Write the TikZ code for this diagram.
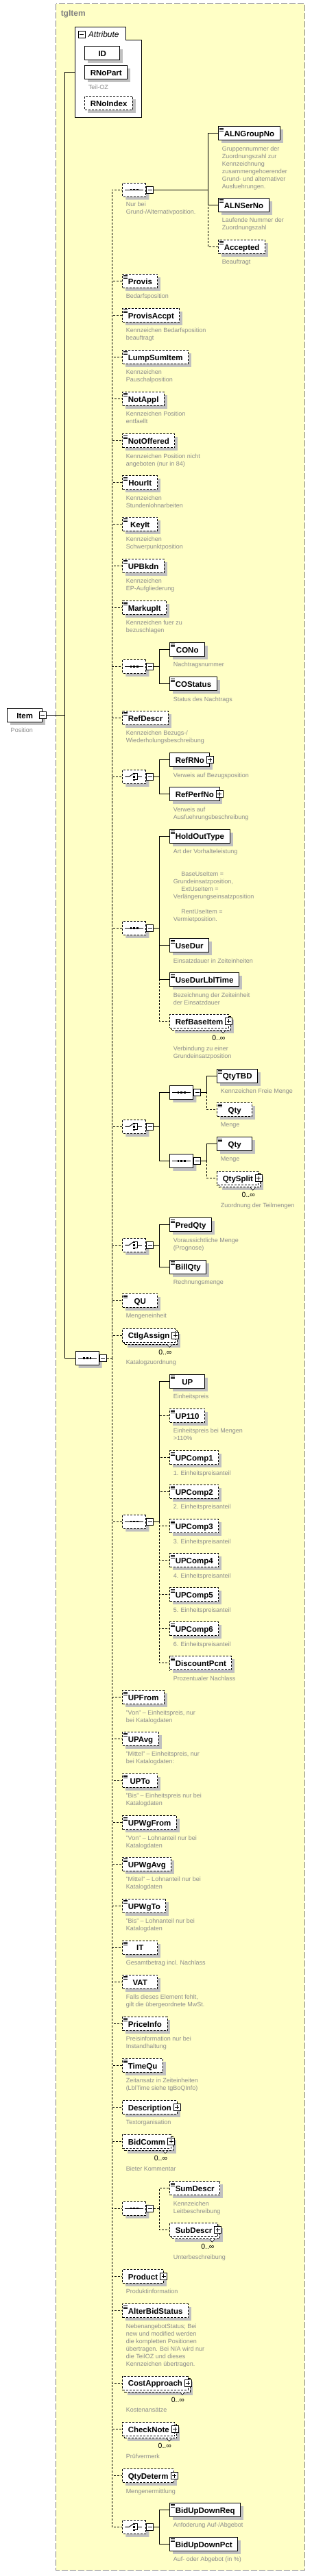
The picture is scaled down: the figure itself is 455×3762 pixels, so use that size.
\documentclass[tikz,border=0pt]{standalone}
\usepackage{fontspec}
\setmainfont{Liberation Sans}
\usetikzlibrary{shapes.misc,shadows,positioning}
\definecolor{paper}{RGB}{255,255,198}
\definecolor{framegray}{RGB}{128,128,128}
\definecolor{descgray}{RGB}{140,140,140}
\definecolor{shade}{RGB}{192,192,192}

\tikzset{
  frame/.style={draw=framegray, line width=1.2pt, dash pattern=on 9pt off 3pt, fill=paper},
  title/.style={anchor=base west, inner sep=0pt, text=framegray, font=\bfseries\fontsize{12}{12}\selectfont},
  box/.style={draw, fill=white, anchor=west, minimum height=20pt, minimum width=51pt,
    inner xsep=8pt, inner ysep=0pt, text height=10.5pt, text depth=1pt,
    font=\bfseries\fontsize{11.5}{12}\selectfont},
  sh/.style={general shadow={fill=shade, shadow xshift=4.5pt, shadow yshift=-4.5pt}},
  el/.style={box, sh},
  dsh/.style={dash pattern=on 3pt off 2pt},
  opt/.style={el, dsh},
  simple/.style={path picture={
    \foreach \k in {2.5,4.5,6.5}
      \draw[solid, line width=.7pt] ([shift={(1.5pt,-\k pt)}]path picture bounding box.north west) -- ++(5.5pt,0pt);}},
  desc/.style={anchor=north west, align=left, inner sep=0pt, text=descgray, font=\fontsize{9}{11}\selectfont},
  pm/.style={draw, solid, fill=white, minimum size=10pt, inner sep=0pt},
  minus/.style={pm, path picture={\draw[solid] ([xshift=2pt]path picture bounding box.west) -- ([xshift=-2pt]path picture bounding box.east);}},
  plus/.style={pm, path picture={\draw[solid] ([xshift=2pt]path picture bounding box.west) -- ([xshift=-2pt]path picture bounding box.east)
      ([yshift=-2pt]path picture bounding box.north) -- ([yshift=2pt]path picture bounding box.south);}},
  comp/.style={chamfered rectangle, chamfered rectangle xsep=5pt, draw, fill=white, anchor=west,
    minimum width=34pt, minimum height=20pt, inner sep=0pt, sh},
  mult/.style={anchor=east, inner sep=0pt, font=\fontsize{10.5}{11}\selectfont},
}

% element with content icon and description
\newcommand{\elem}[5][el]{%
  \node[#1] (#2) at (#3) {#4};
  \node[desc, below right=8pt and 5pt of #2.south west] (#2-d) {#5};}
% element with plus box
\newcommand{\cplx}[5][opt]{%
  \node[#1] (#2) at (#3) {#4\hspace{4pt}};
  \node[plus] (#2-p) at (#2.east) {};
  \node[desc, below right=8pt and 5pt of #2.south west] (#2-d) {#5};}
% element 0..oo
\newcommand{\multi}[4]{%
  \coordinate (#1-at) at (#2);
  \node[box, sh, dsh] (#1-b) at ([shift={(3,3)}]#1-at) {#3\hspace{4pt}};
  \draw[solid, line width=.6pt, fill=white] ([shift={(-15,0)}]#1-b.south east) -- ++(3.5,4) -- ++(3.5,-4);
  \node[box, dsh] (#1) at (#1-at) {#3\hspace{4pt}};
  \node[plus] (#1-p) at (#1.east) {};
  \node[mult] (#1-n) at ([shift={(-5,14)}]#1.south east) {0..∞};
  \node[desc, below right=25.5pt and 5pt of #1.south west] (#1-d) {#4};}
% compositor
\newcommand{\compo}[4]{%
  \node[comp, #3] (#1) at (#2) {};
  \node[minus, anchor=west] (#1-m) at (#1.east) {};
  #4{#1}}
\newcommand{\seqicon}[1]{%
  \draw[solid] ([xshift=4pt]#1.west) -- ([xshift=-4pt]#1.east);
  \foreach \dx in {-4.8,0,4.8}
    \fill ([shift={({\dx pt-1.4pt},-1.4pt)}]#1.center) rectangle ++(2.8pt,2.8pt);}
\newcommand{\choiceicon}[1]{%
  \draw[solid] ([xshift=4pt]#1.west) -- ([xshift=10pt]#1.west) -- ([shift={(15.5pt,4pt)}]#1.west);
  \foreach \dy in {-4.5,0,4.5}
    \fill ([shift={(16pt,{\dy pt-1.3pt})}]#1.west) rectangle ++(2.6pt,2.6pt);
  \draw[solid] ([shift={(19pt,4.5pt)}]#1.west) -| ([shift={(22pt,-4.5pt)}]#1.west) -- ([shift={(19pt,-4.5pt)}]#1.west)
    ([xshift=22pt]#1.west) -- ([xshift=29pt]#1.west);}

\begin{document}
\begin{tikzpicture}[x=1pt, y=-1pt, line width=0.9pt]
\useasboundingbox (0,0) rectangle (455,3762);
\draw[frame] (81.7,5.7) rectangle (444.3,3753.7);
\node[title] (tgitem) at (88.3,23.5) {tgItem};

% attributes
\draw[fill=white] (109.7,171.3) -- (109.7,39.3) -- (183,39.3) -- (183,58.3) -- (206.3,58.3) -- (206.3,171.3) -- cycle;
\node[minus] (attr-m) at (119.3,50) {};
\node[anchor=base west, inner sep=0pt, font=\itshape\fontsize{12}{12}\selectfont] (attr) at (128.5,54.5) {Attribute};
\coordinate (attrw) at (109.7,105.3);
\node[el] (id) at (123.3,77.5) {ID};
\elem{rnopart}{123.3,105.5}{RNoPart}{Teil-OZ}
\node[opt] (rnoindex) at (123.3,150.5) {RNoIndex};

% item
\elem{item}{10.3,1044.3}{Item}{Position}
\node[minus] (item-m) at (item.east) {};
\coordinate (b00) at (94.7,1044.3);

% main sequence
\compo{ms}{109.7,1983.3}{}{\seqicon}
\coordinate (b0) at (163.3,1983.3);

% Grund-/Alternativposition
\compo{s2}{178.3,277}{dsh}{\seqicon}
\node[desc, below right=18pt and 5pt of s2.west] (s2-d) {Nur bei\\Grund-/Alternativposition.};
\coordinate (b1) at (303.3,277);
\elem[el,simple]{alngroupno}{318.3,194.7}{ALNGroupNo}{Gruppennummer der\\Zuordnungszahl zur\\Kennzeichnung\\zusammengehoerender\\Grund- und alternativer\\Ausfuehrungen.}
\elem[el,simple]{alnserno}{318.3,299.3}{ALNSerNo}{Laufende Nummer der\\Zuordnungszahl}
\elem[opt,simple]{accepted}{318.3,360.3}{Accepted}{Beauftragt}

% Kennzeichen
\foreach \nm/\y/\txt/\ds in {provis/410.3/Provis/{Bedarfsposition},
    provisaccpt/460.3/ProvisAccpt/{Kennzeichen Bedarfsposition\\beauftragt},
    lumpsumitem/521.3/LumpSumItem/{Kennzeichen\\Pauschalposition},
    notappl/582.3/NotAppl/{Kennzeichen Position\\entfaellt},
    notoffered/643.7/NotOffered/{Kennzeichen Position nicht\\angeboten (nur in 84)},
    hourit/704.7/HourIt/{Kennzeichen\\Stundenlohnarbeiten},
    keyit/765.3/KeyIt/{Kennzeichen\\Schwerpunktposition},
    upbkdn/826.3/UPBkdn/{Kennzeichen\\EP-Aufgliederung},
    markupit/887.3/MarkupIt/{Kennzeichen fuer zu\\bezuschlagen}}
  {\elem[opt,simple]{\nm}{178.3,\y}{\txt}{\ds}}

% Nachtrag
\compo{s3}{178.3,973.3}{dsh}{\seqicon}
\coordinate (b2) at (232.3,973.3);
\elem[el,simple]{cono}{247.3,948.3}{CONo}{Nachtragsnummer}
\elem[el,simple]{costatus}{247.3,998.7}{COStatus}{Status des Nachtrags}

\elem[opt,simple]{refdescr}{178.3,1048.3}{RefDescr}{Kennzeichen Bezugs-/\\Wiederholungsbeschreibung}

\compo{c1}{178.3,1134.3}{dsh}{\choiceicon}
\coordinate (b3) at (232.3,1134.3);
\cplx[el]{refrno}{247.3,1109.7}{RefRNo}{Verweis auf Bezugsposition}
\cplx[el]{refperfno}{247.3,1159.7}{RefPerfNo}{Verweis auf\\Ausfuehrungsbeschreibung}

% Vorhalteleistung
\compo{s4}{178.3,1355.3}{dsh}{\seqicon}
\coordinate (b4) at (232.3,1355.3);
\elem[el,simple]{holdouttype}{247.3,1221}{HoldOutType}{Art der Vorhalteleistung\\[22pt]\hspace*{11.5pt}BaseUseItem =\\Grundeinsatzposition,\\\hspace*{11.5pt}ExtUseItem =\\Verlängerungseinsatzposition\\[11pt]\hspace*{11.5pt}RentUseItem =\\Vermietposition.}
\elem[el,simple]{usedur}{247.3,1380.7}{UseDur}{Einsatzdauer in Zeiteinheiten}
\elem[el,simple]{usedurlbltime}{247.3,1430.7}{UseDurLblTime}{Bezeichnung der Zeiteinheit\\der Einsatzdauer}
\multi{refbaseitem}{247.3,1491.3}{RefBaseItem}{Verbindung zu einer\\Grundeinsatzposition}

% Menge
\compo{c2}{178.3,1645.3}{dsh}{\choiceicon}
\coordinate (b5) at (232.3,1645.3);
\compo{s5}{247.3,1595.3}{}{\seqicon}
\coordinate (b6) at (301.3,1595.3);
\elem[el,simple]{qtytbd}{316.3,1571}{QtyTBD}{Kennzeichen Freie Menge}
\elem[opt,simple]{qty}{316.3,1620.3}{Qty}{Menge}
\compo{s6}{247.3,1695.3}{}{\seqicon}
\coordinate (b7) at (301.3,1695.3);
\elem[el,simple]{qtyb}{316.3,1670.7}{Qty}{Menge}
\multi{qtysplit}{316.3,1720.7}{QtySplit}{Zuordnung der Teilmengen}

\compo{c3}{178.3,1818.3}{dsh}{\choiceicon}
\coordinate (b8) at (232.3,1818.3);
\elem[el,simple]{predqty}{247.3,1788.7}{PredQty}{Voraussichtliche Menge\\(Prognose)}
\elem[el,simple]{billqty}{247.3,1850}{BillQty}{Rechnungsmenge}

\elem[opt,simple]{qu}{178.3,1899.3}{QU}{Mengeneinheit}
\multi{ctlgassign}{178.3,1950}{CtlgAssign}{Katalogzuordnung}

% Einheitspreis
\compo{s7}{178.3,2222}{dsh}{\seqicon}
\coordinate (b9) at (232.3,2222);
\elem[el,simple]{up}{247.3,2017.3}{UP}{Einheitspreis}
\elem[opt,simple]{up110}{247.3,2067.3}{UP110}{Einheitspreis bei Mengen\\>110\%}
\foreach \k/\y in {1/2128.7,2/2178.3,3/2228.7,4/2278.7,5/2328.7,6/2378.7}
  {\elem[opt,simple]{upcomp\k}{247.3,\y}{UPComp\k}{\k. Einheitspreisanteil}}
\elem[opt,simple]{discountpcnt}{247.3,2428.7}{DiscountPcnt}{Prozentualer Nachlass}

% Katalogdaten
\foreach \nm/\y/\txt/\ds in {upfrom/2478.7/UPFrom/{"Von" – Einheitspreis, nur\\bei Katalogdaten},
    upavg/2539.3/UPAvg/{"Mittel" – Einheitspreis, nur\\bei Katalogdaten:},
    upto/2600.3/UPTo/{"Bis" – Einheitspreis nur bei\\Katalogdaten},
    upwgfrom/2661.7/UPWgFrom/{"Von" – Lohnanteil nur bei\\Katalogdaten},
    upwgavg/2722.3/UPWgAvg/{"Mittel" – Lohnanteil nur bei\\Katalogdaten},
    upwgto/2783.3/UPWgTo/{"Bis" – Lohnanteil nur bei\\Katalogdaten},
    it/2844/IT/{Gesamtbetrag incl. Nachlass},
    vat/2894.3/VAT/{Falls dieses Element fehlt,\\gilt die übergeordnete MwSt.},
    priceinfo/2955.3/PriceInfo/{Preisinformation nur bei\\Instandhaltung},
    timequ/3016.3/TimeQu/{Zeitansatz in Zeiteinheiten\\(LblTime siehe tgBoQInfo)}}
  {\elem[opt,simple]{\nm}{178.3,\y}{\txt}{\ds}}

\cplx{description}{178.3,3077.3}{Description}{Textorganisation}
\multi{bidcomm}{178.3,3127.3}{BidComm}{Bieter Kommentar}

\compo{s8}{178.3,3225}{dsh}{\seqicon}
\coordinate (b10) at (232.3,3225);
\elem[opt,simple]{sumdescr}{247.3,3195.7}{SumDescr}{Kennzeichen\\Leitbeschreibung}
\multi{subdescr}{247.3,3256.7}{SubDescr}{Unterbeschreibung}

\cplx{product}{178.3,3324.3}{Product}{Produktinformation}
\elem[opt,simple]{alterbidstatus}{178.3,3374.7}{AlterBidStatus}{NebenangebotStatus; Bei\\new und modified werden\\die kompletten Positionen\\übertragen. Bei N/A wird nur\\die TeilOZ und dieses\\Kennzeichen übertragen.}
\multi{costapproach}{178.3,3480}{CostApproach}{Kostenansätze}
\multi{checknote}{178.3,3547.7}{CheckNote}{Prüfvermerk}
\cplx{qtydeterm}{178.3,3615.7}{QtyDeterm}{Mengenermittlung}

% Auf-/Abgebot
\compo{c4}{178.3,3690.3}{dsh}{\choiceicon}
\coordinate (b11) at (232.3,3690.3);
\elem[el,simple]{bidupdownreq}{247.3,3665.3}{BidUpDownReq}{Anfoderung Auf-/Abgebot}
\elem[el,simple]{bidupdownpct}{247.3,3715.3}{BidUpDownPct}{Auf- oder Abgebot (in \%)}

% connectors
\draw (item-m) -- (b00) |- (attrw);
\draw (b00) |- (ms.west);
\draw[dsh] (ms-m) -- (b0);
\foreach \nm in {s2,provis,provisaccpt,lumpsumitem,notappl,notoffered,hourit,keyit,upbkdn,markupit,
    s3,refdescr,c1,s4,c2,c3,qu,ctlgassign,s7,upfrom,upavg,upto,upwgfrom,upwgavg,upwgto,it,vat,
    priceinfo,timequ,description,bidcomm,s8,product,alterbidstatus,costapproach,checknote,qtydeterm,c4}
  \draw[dsh] (b0) |- (\nm.west);

\draw (s2-m) -- (b1);
\draw[dsh] (b1) |- (accepted.west);
\foreach \nm in {alngroupno,alnserno} \draw (b1) |- (\nm.west);

\draw (s3-m) -- (b2);
\foreach \nm in {cono,costatus} \draw (b2) |- (\nm.west);

\draw (c1-m) -- (b3);
\foreach \nm in {refrno,refperfno} \draw (b3) |- (\nm.west);

\draw (s4-m) -- (b4);
\draw[dsh] (b4) |- (refbaseitem.west);
\foreach \nm in {holdouttype,usedur,usedurlbltime} \draw (b4) |- (\nm.west);

\draw (c2-m) -- (b5);
\foreach \nm in {s5,s6} \draw (b5) |- (\nm.west);
\draw (s5-m) -- (b6);
\draw[dsh] (b6) |- (qty.west);
\draw (b6) |- (qtytbd.west);
\draw (s6-m) -- (b7);
\draw[dsh] (b7) |- (qtysplit.west);
\draw (b7) |- (qtyb.west);

\draw (c3-m) -- (b8);
\foreach \nm in {predqty,billqty} \draw (b8) |- (\nm.west);

\draw (s7-m) -- (b9);
\foreach \nm in {up110,upcomp1,upcomp2,upcomp3,upcomp4,upcomp5,upcomp6,discountpcnt}
  \draw[dsh] (b9) |- (\nm.west);
\draw (b9) |- (up.west);

\draw[dsh] (s8-m) -- (b10);
\foreach \nm in {sumdescr,subdescr} \draw[dsh] (b10) |- (\nm.west);

\draw (c4-m) -- (b11);
\foreach \nm in {bidupdownreq,bidupdownpct} \draw (b11) |- (\nm.west);
\end{tikzpicture}
\end{document}
